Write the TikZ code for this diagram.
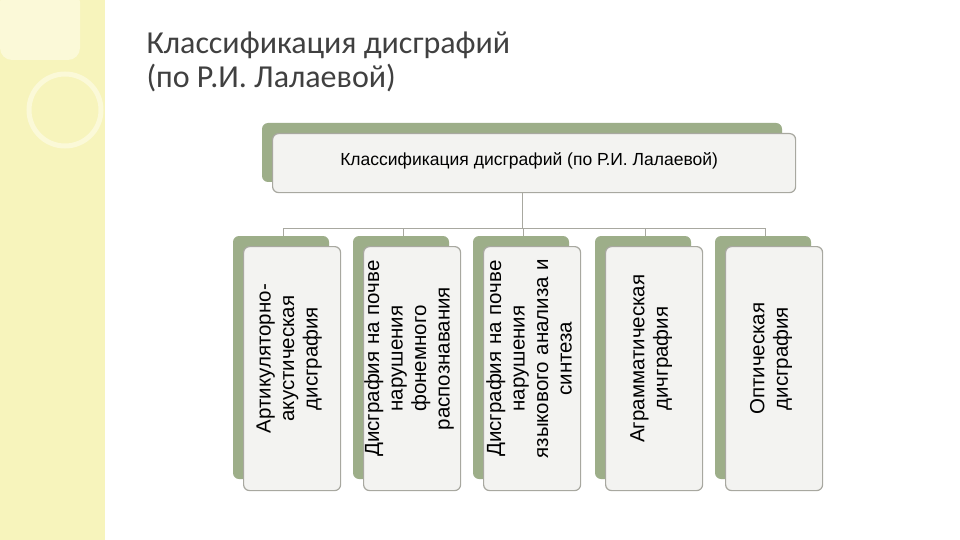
\documentclass[tikz,border=0pt]{standalone}
\usepackage{fontspec}
\usetikzlibrary{calc}
\setmainfont{Liberation Sans}
\newfontfamily\titlefont{Carlito}
\begin{document}
\begin{tikzpicture}[x=1pt,y=-1pt,
  back/.style={fill=backgreen,rounded corners=6pt},
  front/.style={draw=bordergray,line width=1.2pt,fill=frontgray,rounded corners=6pt},
  conn/.style={draw=bordergray,line width=0.9pt},
  coltext/.style={rotate=90,align=center,font=\fontsize{20.5}{23.5}\selectfont,text width=232pt}]
\definecolor{backgreen}{HTML}{9DAE89}
\definecolor{bordergray}{HTML}{A8A8A0}
\definecolor{frontgray}{HTML}{F3F3F1}
\definecolor{strip}{HTML}{F7F4BC}
\definecolor{strip2}{HTML}{FBF9D8}
\definecolor{titlegray}{HTML}{404040}
\useasboundingbox (0,0) rectangle (960,540);
\fill[white] (0,0) rectangle (960,540);
\fill[strip] (0,0) rectangle (105,540);
\fill[strip2,rounded corners=12pt] (0,-10) rectangle (80,60);
\draw[strip2,line width=5pt] (65,110) circle (36);
\node[anchor=west,text=titlegray,font=\titlefont\fontsize{32}{34}\selectfont,align=left] (title) at (143,62) {Классификация дисграфий\\(по Р.И. Лалаевой)};
\fill[back] (262,123) rectangle (782,182);
\node[front,minimum width=523pt,minimum height=59pt,anchor=north west] (top) at (272,133) {};
\node[font=\fontsize{17.5}{20}\selectfont] (toptext) at ($(top.center)+(-5,-2)$) {Классификация дисграфий (по Р.И. Лалаевой)};
\coordinate (hub) at (522,228);
\draw[conn] (top.south -| hub) -- (hub);
\foreach \i/\x/\t in {1/233/{Артикуляторно-\\акустическая\\дисграфия},
  2/353/{Дисграфия на почве\\нарушения\\фонемного\\распознавания},
  3/473/{Дисграфия на почве\\нарушения\\языкового анализа и\\синтеза},
  4/595/{Аграмматическая\\дичграфия},
  5/715/{Оптическая\\дисграфия}}{
  \coordinate (d\i) at (\x+50,228);
  \coordinate (e\i) at (\x+50,236);
  \draw[conn] (d\i) -- (e\i);
  \fill[back] (\x,236) rectangle ++(96,243);
  \node[front,minimum width=97pt,minimum height=244pt,anchor=north west] (c\i) at (\x+10,246) {};
  \node[coltext] (t\i) at ($(c\i.center)+(-3,-10)$) {\t};
}
\draw[conn] (d1) -- (d5);
\end{tikzpicture}
\end{document}
